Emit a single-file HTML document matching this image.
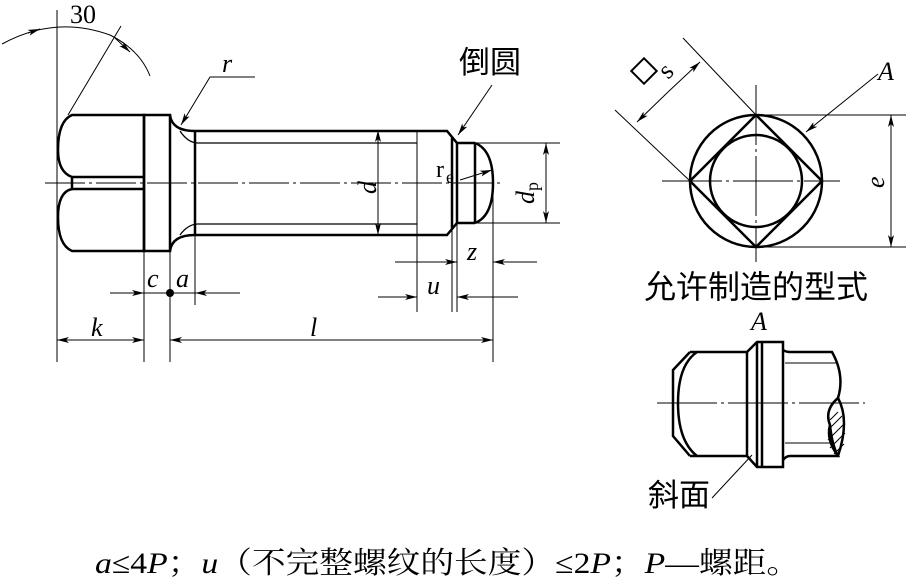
<!DOCTYPE html>
<html><head><meta charset="utf-8"><style>
html,body{margin:0;padding:0;background:#fff;}
svg{display:block;}
text{font-family:"Liberation Serif","Noto Serif CJK SC",serif;fill:#000;}
.cj{font-family:"Liberation Sans","Noto Sans CJK SC",sans-serif;}
</style></head><body>
<svg width="906" height="581" viewBox="0 0 906 581" xmlns="http://www.w3.org/2000/svg">
<defs>
<marker id="ar" viewBox="0 0 12 6" refX="12" refY="3" markerWidth="12" markerHeight="6" markerUnits="userSpaceOnUse" orient="auto">
<path d="M0,0 L12,3 L0,6 L3,3z" fill="#000"/></marker>
</defs>
<g fill="none" stroke="#000" stroke-width="1">
<line x1="57" y1="10" x2="57" y2="362"/>
<line x1="144" y1="251" x2="144" y2="362"/>
<line x1="170" y1="251" x2="170" y2="362"/>
<line x1="195" y1="235" x2="195" y2="305"/>
<line x1="417" y1="130" x2="417" y2="312"/>
<line x1="452" y1="223" x2="452" y2="312"/>
<line x1="457" y1="223" x2="457" y2="312"/>
<line x1="493" y1="183" x2="493" y2="362"/>
<line x1="475" y1="143" x2="560" y2="143"/>
<line x1="475" y1="223" x2="560" y2="223"/>
<line x1="45" y1="183" x2="500" y2="183" stroke-dasharray="40,4,3,4"/>
<line x1="110" y1="293" x2="144" y2="293" marker-end="url(#ar)"/>
<line x1="240" y1="293" x2="195" y2="293" marker-end="url(#ar)"/>
<line x1="144" y1="293" x2="195" y2="293"/>
<line x1="100" y1="340" x2="57" y2="340" marker-end="url(#ar)"/>
<line x1="100" y1="340" x2="144" y2="340" marker-end="url(#ar)"/>
<line x1="330" y1="340" x2="170" y2="340" marker-end="url(#ar)"/>
<line x1="330" y1="340" x2="493" y2="340" marker-end="url(#ar)"/>
<line x1="378" y1="183" x2="378" y2="130" marker-end="url(#ar)"/>
<line x1="378" y1="183" x2="378" y2="235" marker-end="url(#ar)"/>
<line x1="546" y1="183" x2="546" y2="143" marker-end="url(#ar)"/>
<line x1="546" y1="183" x2="546" y2="223" marker-end="url(#ar)"/>
<line x1="395" y1="262" x2="457" y2="262" marker-end="url(#ar)"/>
<line x1="537" y1="262" x2="493" y2="262" marker-end="url(#ar)"/>
<line x1="378" y1="297" x2="417" y2="297" marker-end="url(#ar)"/>
<line x1="518" y1="297" x2="457" y2="297" marker-end="url(#ar)"/>
<path d="M2,44 Q55,15 110,35 Q140,50 150,76"/>
<line x1="28" y1="33" x2="40" y2="29" marker-end="url(#ar)"/>
<line x1="115" y1="38" x2="130" y2="52" marker-end="url(#ar)"/>
<line x1="68" y1="115" x2="121" y2="26"/>
<polyline points="255,77 210,77 181,125" marker-end="url(#ar)"/>
<line x1="492" y1="85" x2="458" y2="135" marker-end="url(#ar)"/>
<line x1="460" y1="180" x2="492" y2="170" marker-end="url(#ar)"/>
</g>
<g fill="none" stroke="#000" stroke-width="2.5">
<path d="M72,115 L144,115 L144,251 L72,251 Q58,245 58,217 Q58,192 72,189 L72,177 Q58,172 58,150 Q58,121 72,115Z"/>
<line x1="72" y1="177" x2="144" y2="177"/>
<line x1="72" y1="189" x2="144" y2="189"/>
<rect x="144" y="115" width="26" height="136"/>
<path d="M170,115 Q172,131 195,131 L447,131 L457,143 L475,143"/>
<path d="M170,251 Q172,235 195,235 L447,235 L457,223 L475,223"/>
<line x1="195" y1="131" x2="195" y2="235"/>
<line x1="452" y1="138" x2="452" y2="228"/>
<line x1="457" y1="143" x2="457" y2="223"/>
<line x1="475" y1="143" x2="475" y2="223"/>
<path d="M475,143 Q493,150 493,183 Q493,216 475,223"/>
</g>
<g fill="none" stroke="#000" stroke-width="1.3">
<path d="M180,131 Q188,143 198,143 L417,143"/>
<path d="M180,235 Q188,224 198,224 L417,224"/>
</g>
<circle cx="170" cy="293" r="4" fill="#000"/>
<g fill="none" stroke="#000" stroke-width="1">
<line x1="756" y1="85" x2="756" y2="262" stroke-dasharray="60,4,3,4"/>
<line x1="662" y1="181" x2="840" y2="181" stroke-dasharray="60,4,3,4"/>
<line x1="756" y1="115" x2="906" y2="115"/>
<line x1="756" y1="247" x2="906" y2="247"/>
<line x1="891" y1="181" x2="891" y2="115" marker-end="url(#ar)"/>
<line x1="891" y1="181" x2="891" y2="247" marker-end="url(#ar)"/>
<line x1="683" y1="38" x2="756" y2="115"/>
<line x1="615" y1="110" x2="690" y2="181"/>
<line x1="668" y1="92" x2="700" y2="62" marker-end="url(#ar)"/>
<line x1="668" y1="92" x2="637" y2="122" marker-end="url(#ar)"/>
<line x1="878" y1="74" x2="806" y2="132" marker-end="url(#ar)"/>
</g>
<rect x="635" y="62" width="18" height="18" transform="rotate(-45 644 71)" fill="none" stroke="#000" stroke-width="2"/>
<g fill="none" stroke="#000" stroke-width="2.5">
<circle cx="756" cy="181" r="66"/>
<circle cx="756" cy="181" r="46"/>
<polygon points="756,115 822,181 756,247 690,181"/>
</g>
<g fill="none" stroke="#000" stroke-width="1">
<line x1="657" y1="403" x2="865" y2="403" stroke-dasharray="60,4,3,4"/>
<line x1="785" y1="363" x2="836" y2="363"/>
<line x1="785" y1="443" x2="830" y2="443"/>
<line x1="712" y1="498" x2="752" y2="455"/>
<path d="M830,420 L838,412 M828,430 L842,416 M828,440 L844,424 M830,448 L845,433 M834,454 L844,444"/>
</g>
<g fill="none" stroke="#000" stroke-width="2.5">
<path d="M690,352 L673,370 L673,436 L690,456"/>
<path d="M697,352 Q678,365 678,403 Q678,441 697,456"/>
<line x1="690" y1="352" x2="747" y2="352"/>
<line x1="690" y1="456" x2="747" y2="456"/>
<line x1="747" y1="352" x2="747" y2="456"/>
<path d="M747,352 L757,342 L783,342 L783,467 L757,467 L747,456"/>
<line x1="757" y1="342" x2="757" y2="467"/>
<line x1="762" y1="342" x2="762" y2="467"/>
<path d="M783,350 Q786,352 790,352 L832,352 Q845,375 838,398 Q824,410 830,425 Q832,445 838,456 L790,456 Q786,456 783,460"/>
<path d="M838,398 Q850,420 838,456"/>
<path d="M830,425 Q826,440 838,456"/>
</g>
<text x="70" y="23" font-size="26">30</text>
<text x="222" y="72" font-size="26" font-style="italic">r</text>
<text x="147" y="287" font-size="26" font-style="italic">c</text>
<text x="176" y="287" font-size="26" font-style="italic">a</text>
<text x="91" y="336" font-size="26" font-style="italic">k</text>
<text x="310" y="336" font-size="26" font-style="italic">l</text>
<text x="427" y="294" font-size="26" font-style="italic">u</text>
<text x="467" y="260" font-size="26" font-style="italic">z</text>
<text x="436" y="177" font-size="24">r</text><text x="446" y="183" font-size="18">e</text>
<text transform="translate(376,194) rotate(-90)" font-size="26" font-style="italic">d</text>
<text transform="translate(534,204) rotate(-90)" font-size="26" font-style="italic">d<tspan font-size="18" font-style="normal" dy="4">p</tspan></text>
<text transform="translate(884,188) rotate(-90)" font-size="26" font-style="italic">e</text>
<text transform="translate(668,80) rotate(-45)" font-size="26">s</text>
<text x="878" y="80" font-size="26" font-style="italic">A</text>
<text x="751" y="330" font-size="26" font-style="italic">A</text>
<text class="cj" x="459" y="73" font-size="31">倒圆</text>
<text class="cj" x="644" y="298" font-size="32">允许制造的型式</text>
<text class="cj" x="648" y="506" font-size="31">斜面</text>
<text x="95" y="573" font-size="30" textLength="705" lengthAdjust="spacingAndGlyphs"><tspan font-style="italic">a</tspan>≤4<tspan font-style="italic">P</tspan>；<tspan font-style="italic">u</tspan>（不完整螺纹的长度）≤2<tspan font-style="italic">P</tspan>；<tspan font-style="italic">P</tspan>—螺距。</text>
</svg>
</body></html>
